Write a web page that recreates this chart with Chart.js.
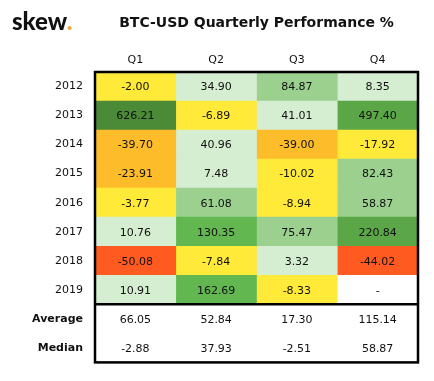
<!DOCTYPE html>
<html>
<head>
<meta charset="utf-8">
<script src="https://cdn.jsdelivr.net/npm/chart.js@4.4.1/dist/chart.umd.min.js"></script>
<style>
  html, body { margin: 0; padding: 0; background: #fff; }
  #wrap { position: relative; width: 434px; height: 381px; }
  #logo { position: absolute; left: 12px; top: 6px; font: 900 24px Lato, sans-serif; color: #111; }
  #logo span { color: #F5A33B; }
</style>
</head>
<body>
<div id="wrap">
  <canvas id="heat" width="434" height="381"></canvas>
  <div id="logo">skew<span>.</span></div>
</div>
<script>
const title = "BTC-USD Quarterly Performance %"
const quarters = ["Q1", "Q2", "Q3", "Q4"]
const years = ["2012", "2013", "2014", "2015", "2016", "2017", "2018", "2019"]
const q1 = [-2.00, 626.21, -39.70, -23.91, -3.77, 10.76, -50.08, 10.91]
const q2 = [34.90, -6.89, 40.96, 7.48, 61.08, 130.35, -7.84, 162.69]
const q3 = [84.87, 41.01, -39.00, -10.02, -8.94, 75.47, 3.32, -8.33]
const q4 = [8.35, 497.40, -17.92, 82.43, 58.87, 220.84, -44.02, null]
const averages = [66.05, 52.84, 17.30, 115.14]
const medians = [-2.88, 37.93, -2.51, 58.87]

const rowLabels = years.concat(["Average", "Median"])
const columns = [q1, q2, q3, q4]

// bucketed colour scale like the original sheet
function cellColor(v) {
    if (v === null) return "#ffffff"
    if (v < -40) return "#FF5A1F"
    if (v < -20) return "#FDBD2B"
    if (v < 0) return "#FFEA3A"
    if (v < 50) return "#D5EDD0"
    if (v < 100) return "#9BD08F"
    if (v < 200) return "#62B750"
    if (v < 600) return "#5BA747"
    return "#4B8A37"
}

Chart.defaults.font.family = "'DejaVu Sans', Verdana, sans-serif"
Chart.defaults.color = "#111"

const datasets = columns.map((col, k) => {
    const values = col.concat([averages[k], medians[k]])
    return {
        data: values.map((v, i) => ({ x: quarters[k], y: [i, i + 1], v: v })),
        backgroundColor: values.map((v, i) => i < years.length ? cellColor(v) : "#ffffff"),
        borderWidth: 0,
        barPercentage: 1,
        categoryPercentage: 1,
        grouped: false,
    }
})

const tablePlugin = {
    id: "table",
    afterDatasetsDraw(chart) {
        const { ctx, chartArea: a, scales: { y } } = chart
        ctx.save()
        ctx.fillStyle = "#111"
        ctx.font = "11px 'DejaVu Sans'"
        ctx.textAlign = "center"
        ctx.textBaseline = "middle"
        chart.data.datasets.forEach((ds, d) => {
            chart.getDatasetMeta(d).data.forEach((bar, j) => {
                const v = ds.data[j].v
                const txt = v === null ? "-" : v.toFixed(2)
                ctx.fillText(txt, bar.x, (bar.y + bar.base) / 2 + 1)
            })
        })

        ctx.strokeStyle = "#000"
        ctx.lineWidth = 2.5
        ctx.strokeRect(a.left, a.top, a.right - a.left, a.bottom - a.top)
        const sep = y.getPixelForValue(years.length)
        ctx.beginPath()
        ctx.moveTo(a.left, sep)
        ctx.lineTo(a.right, sep)
        ctx.stroke()

        ctx.font = "bold 14px 'DejaVu Sans'"
        ctx.fillText(title, (a.left + a.right) / 2, 23)
        ctx.restore()
    }
}

new Chart(document.getElementById("heat"), {
    type: "bar",
    data: { labels: quarters, datasets: datasets },
    options: {
        responsive: false,
        animation: false,
        devicePixelRatio: 1,
        layout: { padding: { left: 0, right: 16, top: 0, bottom: 9 } },
        plugins: { legend: { display: false }, tooltip: { enabled: false } },
        scales: {
            x: {
                type: "category",
                position: "top",
                grid: { display: false, drawTicks: false },
                border: { display: false },
                ticks: { padding: 5, font: { size: 11 } },
                afterFit: (scale) => { scale.height = 72 },
            },
            y: {
                type: "linear",
                min: 0,
                max: rowLabels.length,
                reverse: true,
                grid: { display: false, drawTicks: false },
                border: { display: false },
                afterBuildTicks: (scale) => {
                    scale.ticks = rowLabels.map((_, i) => ({ value: i + 0.5 }))
                },
                ticks: {
                    padding: 12,
                    autoSkip: false,
                    callback: (val) => rowLabels[Math.floor(val)],
                    font: (c) => ({ size: 11, weight: c.index >= years.length ? "bold" : "normal" }),
                },
                afterFit: (scale) => { scale.width = 95 },
            },
        },
    },
    plugins: [tablePlugin],
})
</script>
</body>
</html>
